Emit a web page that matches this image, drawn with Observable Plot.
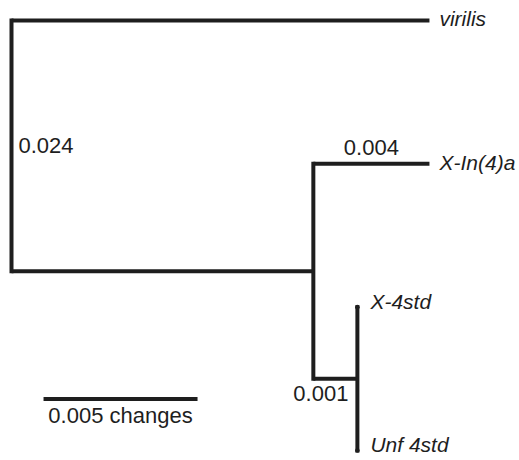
<!DOCTYPE html>
<html>
<head>
<meta charset="utf-8">
<script src="https://cdn.jsdelivr.net/npm/d3@7"></script>
<script src="https://cdn.jsdelivr.net/npm/@observablehq/plot@0.6"></script>
<style>
  html, body { margin: 0; padding: 0; background: #fff; }
</style>
</head>
<body>
<div id="chart"></div>
<script>
// Tree structure (branch lengths in substitutions/site, "changes")
const nodeNames    = ["root", "A", "B", "virilis", "X-In(4)a", "X-4std", "Unf 4std"];
const parentOf     = [null, "root", "A", "root", "A", "B", "B"];
const branchLength = [0, 0.0098, 0.00143, 0.01357, 0.00377, 0, 0];
const tipOrder     = ["virilis", "X-In(4)a", "X-4std", "Unf 4std"];

// Branch labels
const branchLabelNodes = ["root", "X-In(4)a", "B"];
const branchLabelText  = ["0.024", "0.004", "0.001"];

// Scale bar
const scaleBarLength = 0.005;
const scaleBarLabel  = "0.005 changes";

// --- compute layout from the tree ---
const idx = new Map(nodeNames.map((n, i) => [n, i]));
const children = new Map(nodeNames.map(n => [n, []]));
nodeNames.forEach((n, i) => { if (parentOf[i]) children.get(parentOf[i]).push(n); });

const X = new Map(), Y = new Map();
function setX(n, base) {
  X.set(n, base + branchLength[idx.get(n)]);
  children.get(n).forEach(c => setX(c, X.get(n)));
}
setX("root", 0);
function setY(n) {
  const ch = children.get(n);
  if (ch.length === 0) { Y.set(n, tipOrder.indexOf(n)); return Y.get(n); }
  const ys = ch.map(setY);
  Y.set(n, (d3.min(ys) + d3.max(ys)) / 2);
  return Y.get(n);
}
setY("root");

// horizontal branches (parent x -> child x at child y)
const horiz = nodeNames
  .map((n, i) => ({n, p: parentOf[i]}))
  .filter(d => d.p && X.get(d.n) > X.get(d.p))
  .map(d => ({x1: X.get(d.p), x2: X.get(d.n), y: Y.get(d.n)}));
// vertical connectors at internal nodes
const vert = nodeNames
  .filter(n => children.get(n).length)
  .map(n => {
    const ys = children.get(n).map(c => Y.get(c));
    return {x: X.get(n), y1: d3.min(ys), y2: d3.max(ys)};
  });

const tips = tipOrder.map(n => ({name: n, x: X.get(n), y: Y.get(n), len: branchLength[idx.get(n)]}));
const longTips = tips.filter(d => d.len > 0);
const zeroTips = tips.filter(d => d.len === 0);

const lbl = branchLabelNodes.map((n, i) => {
  const p = parentOf[idx.get(n)];
  return {node: n, text: branchLabelText[i], x: X.get(n), y: Y.get(n),
          px: p ? X.get(p) : X.get(n)};
});
const rootLbl = lbl.filter(d => d.node === "root").map(d => {
  const ch = children.get("root").map(c => Y.get(c));
  return {...d, y: (d3.min(ch) + d3.max(ch)) / 2};
});
const branchMidLbl = lbl.filter(d => d.node === "X-In(4)a").map(d => ({...d, x: (d.px + d.x) / 2}));
const nodeLbl = lbl.filter(d => d.node === "B");

const barX0 = 0.00104, barY = 2.64;
const scaleBar = [{x1: barX0, x2: barX0 + scaleBarLength, y: barY, label: scaleBarLabel}];

const ink = "#1e1e1e";
const font = "Liberation Sans, Arial, Helvetica, sans-serif";
const fs = 22;

const chart = Plot.plot({
  width: 519,
  height: 460,
  marginLeft: 11,
  marginRight: 0,
  marginTop: 20,
  marginBottom: 10,
  x: {domain: [0, 508 / 30800], axis: null},
  y: {domain: [0, 3], reverse: true, axis: null},
  style: {fontFamily: font, fontSize: fs + "px", background: "#fff", color: ink},
  marks: [
    Plot.link(horiz, {x1: "x1", x2: "x2", y1: "y", y2: "y", stroke: ink, strokeWidth: 4, strokeLinecap: "butt"}),
    Plot.link(vert, {x1: "x", x2: "x", y1: "y1", y2: "y2", stroke: ink, strokeWidth: 4, strokeLinecap: "square"}),
    Plot.dot(zeroTips, {x: "x", y: "y", r: 2.3, fill: ink, stroke: null}),
    Plot.text(longTips, {x: "x", y: "y", text: "name", textAnchor: "start", dx: 10, dy: -1,
      fontStyle: "italic", fill: ink, fontSize: 21}),
    Plot.text(zeroTips, {x: "x", y: "y", text: "name", textAnchor: "start", dx: 13, dy: -5,
      fontStyle: "italic", fill: ink, fontSize: 21}),
    Plot.text(rootLbl, {x: "x", y: "y", text: "text", textAnchor: "start", dx: 7, fill: ink, fontSize: fs}),
    Plot.text(branchMidLbl, {x: "x", y: "y", text: "text", textAnchor: "middle", dy: -16, fill: ink, fontSize: fs}),
    Plot.text(nodeLbl, {x: "x", y: "y", text: "text", textAnchor: "end", dx: -9, dy: 15, fill: ink, fontSize: fs}),
    Plot.link(scaleBar, {x1: "x1", x2: "x2", y1: "y", y2: "y", stroke: ink, strokeWidth: 4}),
    Plot.text(scaleBar, {x: d => (d.x1 + d.x2) / 2, y: "y", text: "label", dy: 17, fill: ink, fontSize: fs})
  ]
});
document.getElementById("chart").appendChild(chart);
</script>
</body>
</html>
